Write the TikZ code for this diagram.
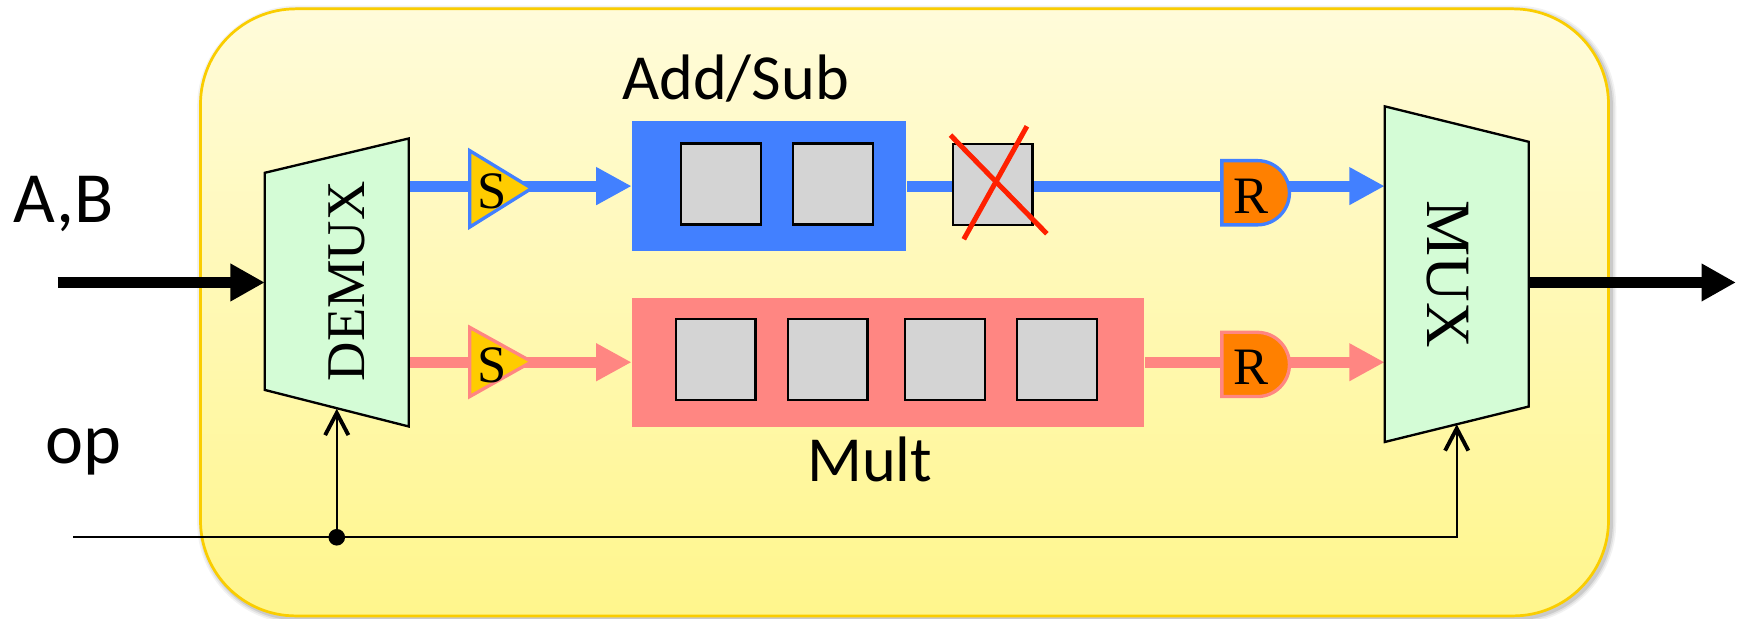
\documentclass[tikz,border=0pt]{standalone}
\usepackage{fontspec}
\setmainfont{Liberation Serif}
\newfontfamily\calibri{Carlito}
\usetikzlibrary{arrows.meta,positioning,calc}
\definecolor{cBlue}{RGB}{66,128,255}
\definecolor{cPink}{RGB}{255,134,130}
\definecolor{cGold}{RGB}{255,204,0}
\definecolor{cOrange}{RGB}{255,128,0}
\definecolor{cGray}{RGB}{212,212,212}
\definecolor{cMint}{RGB}{212,252,214}
\definecolor{cCross}{RGB}{255,32,0}
\definecolor{cFrame}{RGB}{250,205,0}
\definecolor{cTop}{RGB}{255,251,218}
\definecolor{cBot}{RGB}{255,246,140}

\begin{document}
\begin{tikzpicture}[
    x=0.01cm, y=-0.01cm,
    stage/.style={rectangle,draw=black,line width=0.6pt,fill=cGray,minimum width=0.72cm,minimum height=0.73cm,inner sep=0pt},
    block/.style={rectangle,inner sep=0pt},
    muxbody/.style={draw=black,fill=cMint,line width=0.6pt},
    lane/.style={line width=0.1cm,-{Triangle[length=0.32cm,width=0.32cm]}},
    bus/.style={line width=0.1cm,-{Triangle[length=0.31cm,width=0.32cm]}},
    sel/.style={line width=0.6pt,-{Straight Barb[length=0.2cm,width=0.21cm,line width=1pt]}},
    lbl/.style={font=\calibri\fontsize{16.5}{18}\selectfont,anchor=base,inner sep=0pt},
    io/.style={font=\calibri\fontsize{18.5}{20}\selectfont,anchor=base,inner sep=0pt},
    tag/.style={font=\fontsize{13.5}{15}\selectfont,inner sep=0pt}
  ]
  \useasboundingbox (0,0) rectangle (1568,558);

  % frame with soft shadow
  \foreach \w/\o in {0.10/0.05,0.07/0.07,0.04/0.10}
    \draw[black,opacity=\o,line width=\w cm,rounded corners=0.86cm] (183,10) rectangle (1454,558);
  \draw[top color=cTop,bottom color=cBot,draw=cFrame,line width=0.7pt,rounded corners=0.86cm]
    (181,8) rectangle (1452,556);

  % op select line
  \coordinate (opin) at (66,485);
  \coordinate (opcorner) at (1315,485);
  \coordinate (dmsel) at (304,369);
  \coordinate (mxsel) at (1315,383);
  \node[circle,fill=black,inner sep=0pt,minimum size=0.15cm] (tap) at (304,485) {};
  \draw[sel] (opin) -- (opcorner) -- (mxsel);
  \draw[sel] (tap.center) -- (dmsel);

  % units
  \node[block,fill=cBlue,minimum width=2.47cm,minimum height=1.17cm] (addsub) at (694.5,168) {};
  \node[block,fill=cPink,minimum width=4.62cm,minimum height=1.16cm] (mult) at (802,327) {};

  % lanes
  \coordinate (dmA) at (369,168);
  \coordinate (dmB) at (369,327);
  \coordinate (mxA) at (1250,168);
  \coordinate (mxB) at (1250,327);
  \draw[lane,cBlue] (dmA) -- (addsub.west);
  \draw[lane,cBlue] (addsub.east) -- (mxA);
  \draw[lane,cPink] (dmB) -- (mult.west);
  \draw[lane,cPink] (mult.east) -- (mxB);

  % pipeline stages
  \node[stage] (as1) at (650.7,166) {};
  \node[stage] (as2) at (751.9,166) {};
  \node[stage] (asX) at (896,166.7) {};
  \foreach \x [count=\i] in {646,747.2,853.2,954}
    \node[stage] (m\i) at (\x,324.4) {};
  \draw[cCross,line width=0.045cm] (858,122) -- (945,211);
  \draw[cCross,line width=0.045cm] (927,114) -- (870,216);

  % S and R
  \draw[fill=cGold,draw=cBlue,line width=0.03cm] (424,136) -- (480,170) -- (424,205) -- cycle;
  \draw[fill=cGold,draw=cPink,line width=0.03cm] (424,295.5) -- (480,326.5) -- (424,358) -- cycle;
  \node[tag] (sA) at (444.6,173) {S};
  \node[tag] (sB) at (444.6,329.5) {S};
  \draw[fill=cOrange,draw=cBlue,line width=0.03cm]
    (1103,145) -- (1135,145) arc[start angle=-90,end angle=90,radius=29] -- (1103,203) -- cycle;
  \draw[fill=cOrange,draw=cPink,line width=0.03cm]
    (1103,300) -- (1135,300) arc[start angle=-90,end angle=90,radius=29] -- (1103,358) -- cycle;
  \node[tag] (rA) at (1129.7,177) {R};
  \node[tag] (rB) at (1129.7,332) {R};

  % demux / mux
  \draw[muxbody] (239,156) -- (369,125) -- (369,385) -- (239,352) -- cycle;
  \draw[muxbody] (1250,96) -- (1380,128) -- (1380,367) -- (1250,399) -- cycle;
  \node[font=\fontsize{14}{16}\selectfont,rotate=90,inner sep=0pt] (demux) at (313.5,254) {DEMUX};
  \node[font=\fontsize{16.2}{18}\selectfont,rotate=-90,inner sep=0pt] (mux) at (1307.4,247.7) {MUX};

  % data in / out
  \coordinate (abin) at (52,255);
  \coordinate (dmin) at (239,255);
  \coordinate (mxout) at (1380,255);
  \coordinate (yout) at (1567,255);
  \draw[bus] (abin) -- (dmin);
  \draw[bus] (mxout) -- (yout);

  % labels
  \node[io] (ablbl) at (57.5,201) {A,B};
  \node[io] (oplbl) at (75,418) {op};
  \node[lbl] (addlbl) at (664,90) {Add/Sub};
  \node[lbl] (multlbl) at (785,435) {Mult};
\end{tikzpicture}
\end{document}
